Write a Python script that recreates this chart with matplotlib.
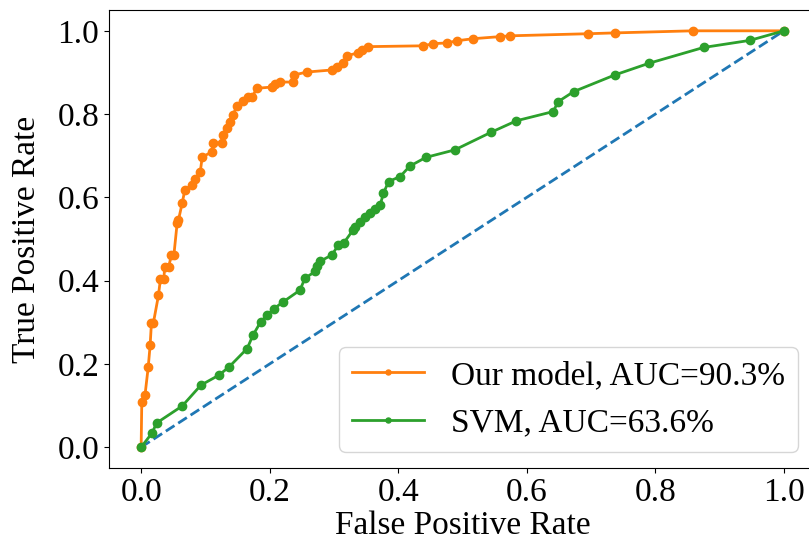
import matplotlib
matplotlib.use("Agg")
import matplotlib.pyplot as plt

# ROC points
our_fpr = [0, 0.001, 0.006, 0.011, 0.014, 0.016, 0.019, 0.027, 0.030, 0.035, 0.037,
           0.043, 0.047, 0.051, 0.056, 0.058, 0.064, 0.068, 0.079, 0.084, 0.092,
           0.095, 0.110, 0.112, 0.126, 0.128, 0.134, 0.138, 0.143, 0.149, 0.159,
           0.166, 0.173, 0.180, 0.204, 0.208, 0.216, 0.236, 0.238, 0.258, 0.297,
           0.305, 0.314, 0.320, 0.337, 0.344, 0.353, 0.439, 0.454, 0.476, 0.491,
           0.516, 0.558, 0.574, 0.695, 0.737, 0.858, 1.0]
our_tpr = [0, 0.108, 0.125, 0.192, 0.245, 0.298, 0.298, 0.365, 0.404, 0.404, 0.433,
           0.433, 0.462, 0.462, 0.538, 0.545, 0.587, 0.618, 0.630, 0.644, 0.661,
           0.697, 0.709, 0.731, 0.731, 0.750, 0.767, 0.781, 0.798, 0.820, 0.832,
           0.840, 0.842, 0.862, 0.865, 0.873, 0.877, 0.877, 0.894, 0.901, 0.906,
           0.913, 0.923, 0.940, 0.947, 0.954, 0.962, 0.964, 0.969, 0.971, 0.976,
           0.981, 0.986, 0.988, 0.993, 0.995, 1.0, 1.0]

svm_fpr = [0, 0.017, 0.024, 0.064, 0.093, 0.121, 0.137, 0.165, 0.174, 0.186, 0.196,
           0.207, 0.221, 0.247, 0.255, 0.271, 0.273, 0.278, 0.297, 0.307, 0.315,
           0.330, 0.333, 0.341, 0.348, 0.356, 0.364, 0.372, 0.377, 0.385, 0.403,
           0.418, 0.443, 0.488, 0.544, 0.584, 0.641, 0.649, 0.673, 0.737, 0.790,
           0.875, 0.947, 1.0]
svm_tpr = [0, 0.034, 0.058, 0.099, 0.149, 0.173, 0.193, 0.237, 0.269, 0.301, 0.317,
           0.333, 0.349, 0.377, 0.406, 0.422, 0.434, 0.446, 0.462, 0.486, 0.490,
           0.522, 0.530, 0.542, 0.554, 0.562, 0.572, 0.582, 0.610, 0.638, 0.650,
           0.675, 0.696, 0.714, 0.756, 0.784, 0.806, 0.830, 0.854, 0.894, 0.922,
           0.960, 0.977, 1.0]

labels = ['Our model, AUC=90.3%', 'SVM, AUC=63.6%']

plt.rcParams['font.family'] = ['Liberation Serif', 'DejaVu Serif']

fig = plt.figure(figsize=(8.09, 5.5), dpi=100)
ax = fig.add_axes([109 / 809, 82 / 550, 707 / 809, 458 / 550])

ax.plot([0, 1], [0, 1], '--', color='#1f77b4', lw=2)
ax.plot(our_fpr, our_tpr, '-o', color='#ff7f0e', lw=2, ms=6, label=labels[0])
ax.plot(svm_fpr, svm_tpr, '-o', color='#2ca02c', lw=2, ms=6, label=labels[1])

ax.set_xlim(-0.05, 1.05)
ax.set_ylim(-0.05, 1.05)
ax.set_xticks([0, 0.2, 0.4, 0.6, 0.8, 1.0])
ax.set_yticks([0, 0.2, 0.4, 0.6, 0.8, 1.0])
ax.tick_params(labelsize=24)
ax.set_xlabel('False Positive Rate', fontsize=24, labelpad=2)
ax.set_ylabel('True Positive Rate', fontsize=24, labelpad=11)

ax.legend(loc='lower left', bbox_to_anchor=(339 / 809, 98 / 550),
          bbox_transform=fig.transFigure, borderaxespad=0, fontsize=24,
          markerscale=0.6, handlelength=2.15, borderpad=0.4, labelspacing=0.52,
          handletextpad=0.8)

fig.savefig('out.png', dpi=100)
